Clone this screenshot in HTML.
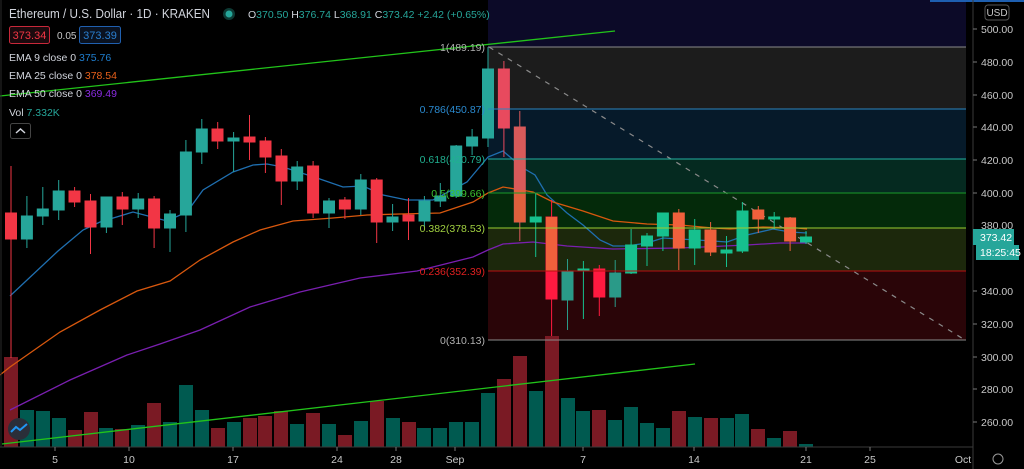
<!DOCTYPE html>
<html><head><meta charset="utf-8"><style>
html,body{margin:0;padding:0;background:#000;width:1024px;height:469px;overflow:hidden}
svg{display:block;font-family:"Liberation Sans",sans-serif}
</style></head><body>
<svg width="1024" height="469" viewBox="0 0 1024 469" xmlns="http://www.w3.org/2000/svg">
<rect width="1024" height="469" fill="#000"/>
<!-- fib zones -->
<rect x="488" y="0" width="478" height="47" fill="#0c0a28"/>
<rect x="488" y="47" width="478" height="62" fill="#1c1c1c"/>
<rect x="488" y="109" width="478" height="50" fill="#061a2a"/>
<rect x="488" y="159" width="478" height="34" fill="#052a20"/>
<rect x="488" y="193" width="478" height="35" fill="#042a0a"/>
<rect x="488" y="228" width="478" height="43" fill="#1c280c"/>
<rect x="488" y="271" width="478" height="69" fill="#2a0508"/>
<line x1="930" y1="1" x2="1024" y2="1" stroke="#1e5fb0" stroke-width="2"/>
<!-- volume -->
<g fill="#7a1a24">
<rect x="4" y="357" width="14" height="90"/>
<rect x="68" y="430" width="14" height="17"/><rect x="84" y="412" width="14" height="35"/>
<rect x="115" y="429" width="14" height="18"/><rect x="147" y="403" width="14" height="44"/>
<rect x="211" y="428" width="14" height="19"/><rect x="243" y="418" width="14" height="29"/>
<rect x="258" y="416" width="14" height="31"/><rect x="274" y="411" width="14" height="36"/>
<rect x="306" y="413" width="14" height="34"/><rect x="338" y="435" width="14" height="12"/>
<rect x="370" y="401" width="14" height="46"/><rect x="402" y="422" width="14" height="25"/>
<rect x="497" y="379" width="14" height="68"/><rect x="513" y="356" width="14" height="91"/>
<rect x="545" y="336" width="14" height="111"/><rect x="592" y="410" width="14" height="37"/>
<rect x="672" y="411" width="14" height="36"/><rect x="704" y="418" width="14" height="29"/>
<rect x="751" y="429" width="14" height="18"/><rect x="783" y="431" width="14" height="16"/>
</g>
<g fill="#005a50">
<rect x="20" y="410" width="14" height="37"/><rect x="36" y="411" width="14" height="36"/>
<rect x="52" y="418" width="14" height="29"/><rect x="99" y="428" width="14" height="19"/>
<rect x="131" y="425" width="14" height="22"/><rect x="163" y="422" width="14" height="25"/>
<rect x="179" y="385" width="14" height="62"/><rect x="195" y="410" width="14" height="37"/>
<rect x="227" y="422" width="14" height="25"/><rect x="290" y="424" width="14" height="23"/>
<rect x="322" y="424" width="14" height="23"/><rect x="354" y="421" width="14" height="26"/>
<rect x="386" y="418" width="14" height="29"/><rect x="417" y="428" width="14" height="19"/>
<rect x="433" y="428" width="14" height="19"/><rect x="449" y="422" width="14" height="25"/>
<rect x="465" y="422" width="14" height="25"/><rect x="481" y="393" width="14" height="54"/>
<rect x="529" y="391" width="14" height="56"/><rect x="561" y="398" width="14" height="49"/>
<rect x="576" y="411" width="14" height="36"/><rect x="608" y="420" width="14" height="27"/>
<rect x="624" y="407" width="14" height="40"/><rect x="640" y="423" width="14" height="24"/>
<rect x="656" y="428" width="14" height="19"/><rect x="688" y="417" width="14" height="30"/>
<rect x="720" y="418" width="14" height="29"/><rect x="735" y="414" width="14" height="33"/>
<rect x="767" y="438" width="14" height="9"/><rect x="799" y="444" width="14" height="3"/>
</g>
<!-- EMAs -->
<polyline fill="none" stroke="#1f6fb0" stroke-width="1.3" points="10,296 58,251 83,230 100,222 133,212 167,221 187,212 203,190 233,172 253,165 267,164 283,167 317,178 343,187 363,186 383,195 407,200 433,200 467,182 488,157 503,151 523,168 535,175 547,195 567,213 583,225 600,240 613,246 627,246 647,243 663,238 680,239 713,241 727,242 747,235 773,229 790,232 807,233"/>
<polyline fill="none" stroke="#d8580e" stroke-width="1.3" points="0,375 10,367 60,332 100,310 137,291 170,281 200,260 233,242 260,230 293,221 333,218 367,215 400,214 440,213 473,202 488,193 503,187 533,192 553,202 583,211 613,221 647,224 680,225 713,228 730,229 763,227 797,228 807,229"/>
<polyline fill="none" stroke="#7a1fb0" stroke-width="1.3" points="10,410 70,380 127,355 160,344 200,330 250,307 300,292 360,278 417,271 473,257 488,250 503,244 533,242 567,246 613,249 680,248 747,245 780,243 807,243"/>
<!-- trend lines -->
<line x1="0" y1="96" x2="615" y2="31" stroke="#22c41a" stroke-width="1.3"/>
<line x1="2" y1="444" x2="695" y2="364" stroke="#22c41a" stroke-width="1.3"/>
<line x1="489" y1="47" x2="965" y2="340" stroke="#8a8a8a" stroke-width="1.2" stroke-dasharray="5,6"/>
<!-- candles -->
<g stroke-width="1">
<g stroke="#f23645" fill="#f23645">
<line x1="11" y1="166" x2="11" y2="358"/><rect x="5.5" y="213" width="11" height="26"/>
<line x1="74.6" y1="187" x2="74.6" y2="207"/><rect x="69" y="191" width="11" height="11"/>
<line x1="90.5" y1="194" x2="90.5" y2="254"/><rect x="85" y="201" width="11" height="26"/>
<line x1="122.3" y1="192" x2="122.3" y2="225"/><rect x="117" y="197" width="11" height="12"/>
<line x1="154.1" y1="196" x2="154.1" y2="248"/><rect x="148.6" y="199" width="11" height="29"/>
<line x1="217.7" y1="122" x2="217.7" y2="149"/><rect x="212" y="129" width="11" height="12"/>
<line x1="249.5" y1="115" x2="249.5" y2="160"/><rect x="244" y="137" width="11" height="5"/>
<line x1="265.4" y1="137" x2="265.4" y2="173"/><rect x="260" y="141" width="11" height="16"/>
<line x1="281.3" y1="149" x2="281.3" y2="205"/><rect x="276" y="156" width="11" height="25"/>
<line x1="313.1" y1="161" x2="313.1" y2="218"/><rect x="307.6" y="166" width="11" height="47"/>
<line x1="344.9" y1="197" x2="344.9" y2="219"/><rect x="339.4" y="200" width="11" height="9"/>
<line x1="376.7" y1="178" x2="376.7" y2="243"/><rect x="371.2" y="180" width="11" height="42"/>
<line x1="408.5" y1="198" x2="408.5" y2="240"/><rect x="403" y="215" width="11" height="6"/>
</g>
<g stroke="#26a69a" fill="#26a69a">
<line x1="26.9" y1="196" x2="26.9" y2="248"/><rect x="21.4" y="216" width="11" height="23"/>
<line x1="42.8" y1="187" x2="42.8" y2="225"/><rect x="37.3" y="209" width="11" height="7"/>
<line x1="58.7" y1="180" x2="58.7" y2="220"/><rect x="53.2" y="191" width="11" height="19"/>
<line x1="106.4" y1="197" x2="106.4" y2="233"/><rect x="101" y="197" width="11" height="30"/>
<line x1="138.2" y1="193" x2="138.2" y2="218"/><rect x="132.7" y="199" width="11" height="10"/>
<line x1="170" y1="210" x2="170" y2="252"/><rect x="164.5" y="214" width="11" height="14"/>
<line x1="185.9" y1="140" x2="185.9" y2="232"/><rect x="180.4" y="152" width="11" height="63"/>
<line x1="201.8" y1="119" x2="201.8" y2="164"/><rect x="196.3" y="129" width="11" height="23"/>
<line x1="233.6" y1="132" x2="233.6" y2="172"/><rect x="228" y="138" width="11" height="3"/>
<line x1="297.2" y1="161" x2="297.2" y2="190"/><rect x="291.7" y="167" width="11" height="14"/>
<line x1="329" y1="198" x2="329" y2="228"/><rect x="323.5" y="201" width="11" height="12"/>
<line x1="360.8" y1="174" x2="360.8" y2="215"/><rect x="355.3" y="180" width="11" height="29"/>
<line x1="392.6" y1="204" x2="392.6" y2="231"/><rect x="387" y="217" width="11" height="5"/>
<line x1="424.4" y1="196" x2="424.4" y2="227"/><rect x="419" y="201" width="11" height="20"/>
<line x1="440.3" y1="183" x2="440.3" y2="207"/><rect x="434.8" y="196" width="11" height="5"/>
<line x1="456.2" y1="145" x2="456.2" y2="198"/><rect x="450.7" y="146" width="11" height="50"/>
<line x1="472.1" y1="129" x2="472.1" y2="155"/><rect x="466.6" y="137" width="11" height="9"/>
<line x1="488" y1="47" x2="488" y2="147"/><rect x="482.5" y="69" width="11" height="69"/>
</g>
<g stroke="#16c08e" fill="#16c08e">
<line x1="535.7" y1="193" x2="535.7" y2="257"/><rect x="530.2" y="217" width="11" height="5"/>
<line x1="583.4" y1="261" x2="583.4" y2="319"/><rect x="578" y="269" width="11" height="2"/>
<line x1="631.1" y1="229" x2="631.1" y2="274"/><rect x="625.6" y="245" width="11" height="28"/>
<line x1="647" y1="233" x2="647" y2="266"/><rect x="641.5" y="236" width="11" height="10"/>
<line x1="662.9" y1="213" x2="662.9" y2="251"/><rect x="657.4" y="213" width="11" height="23"/>
<line x1="694.7" y1="219" x2="694.7" y2="265"/><rect x="689.2" y="230" width="11" height="18"/>
<line x1="726.5" y1="236" x2="726.5" y2="267"/><rect x="721" y="250" width="11" height="3"/>
<line x1="742.4" y1="202" x2="742.4" y2="253"/><rect x="737" y="211" width="11" height="40"/>
<line x1="774.2" y1="212" x2="774.2" y2="229"/><rect x="768.7" y="217" width="11" height="2"/>
<line x1="806" y1="231" x2="806" y2="244"/><rect x="800.5" y="237" width="11" height="5"/>
</g>
<g stroke="#2a9a88" fill="#2a9a88">
<line x1="567.5" y1="259" x2="567.5" y2="330"/><rect x="562" y="271" width="11" height="29"/>
<line x1="615.2" y1="260" x2="615.2" y2="307"/><rect x="609.7" y="273" width="11" height="24"/>
</g>
<g stroke="#e84a5e" fill="#e84a5e">
<line x1="503.9" y1="61" x2="503.9" y2="157"/><rect x="498.4" y="69" width="11" height="59"/>
</g>
<g stroke="#d85a5a" fill="#d85a5a">
<line x1="519.8" y1="111" x2="519.8" y2="241"/><rect x="514.3" y="127" width="11" height="95"/>
</g>
<rect x="514.3" y="190" width="11" height="32" fill="#e0603c"/>
<g stroke="#ff1a40" fill="#ff1a40">
<line x1="551.6" y1="200" x2="551.6" y2="336"/><rect x="546" y="217" width="11" height="82"/>
<line x1="599.3" y1="265" x2="599.3" y2="316"/><rect x="593.8" y="269" width="11" height="28"/>
</g>
<rect x="546" y="217" width="11" height="54" fill="#f0603c"/>
<g stroke="#f0603c" fill="#f0603c">
<line x1="678.8" y1="209" x2="678.8" y2="270"/><rect x="673.3" y="213" width="11" height="35"/>
<line x1="710.6" y1="222" x2="710.6" y2="256"/><rect x="705" y="230" width="11" height="22"/>
<line x1="758.3" y1="206" x2="758.3" y2="233"/><rect x="752.8" y="210" width="11" height="9"/>
<line x1="790.1" y1="217" x2="790.1" y2="251"/><rect x="784.6" y="218" width="11" height="23"/>
</g>
</g>
<!-- fib lines -->
<line x1="488" y1="47" x2="966" y2="47" stroke="#8a8a8a"/>
<line x1="488" y1="109" x2="966" y2="109" stroke="#2a85c0"/>
<line x1="488" y1="159" x2="966" y2="159" stroke="#22b0a0"/>
<line x1="488" y1="193" x2="966" y2="193" stroke="#1a9a2a"/>
<line x1="488" y1="228" x2="966" y2="228" stroke="#9acd32"/>
<line x1="488" y1="271" x2="966" y2="271" stroke="#b81010"/>
<line x1="488" y1="340" x2="966" y2="340" stroke="#8a8a8a"/>
<g font-size="10.5" text-anchor="end">
<text x="485" y="51" fill="#b0b0b0">1(489.19)</text>
<text x="485" y="113" fill="#2a8ad0">0.786(450.87)</text>
<text x="485" y="163" fill="#20b090">0.618(420.79)</text>
<text x="485" y="197" fill="#3cc030">0.5(399.66)</text>
<text x="485" y="232" fill="#a0d040">0.382(378.53)</text>
<text x="485" y="275" fill="#e02020">0.236(352.39)</text>
<text x="485" y="344" fill="#b0b0b0">0(310.13)</text>
</g>
<!-- axes -->
<line x1="973" y1="0" x2="973" y2="469" stroke="#3a3a3a"/>
<line x1="0" y1="447" x2="973" y2="447" stroke="#3a3a3a"/>
<line x1="1" y1="0" x2="1" y2="447" stroke="#2a2a2a"/>
<g font-size="10.5" fill="#c8c8c8">
<text x="981" y="33">500.00</text><text x="981" y="66">480.00</text><text x="981" y="99">460.00</text>
<text x="981" y="131">440.00</text><text x="981" y="164">420.00</text><text x="981" y="197">400.00</text>
<text x="981" y="229">380.00</text><text x="981" y="295">340.00</text><text x="981" y="328">320.00</text>
<text x="981" y="361">300.00</text><text x="981" y="393">280.00</text><text x="981" y="426">260.00</text>
</g>
<g stroke="#777"><line x1="973" y1="29" x2="977" y2="29"/><line x1="973" y1="62" x2="977" y2="62"/><line x1="973" y1="95" x2="977" y2="95"/><line x1="973" y1="127" x2="977" y2="127"/><line x1="973" y1="160" x2="977" y2="160"/><line x1="973" y1="193" x2="977" y2="193"/><line x1="973" y1="291" x2="977" y2="291"/><line x1="973" y1="324" x2="977" y2="324"/><line x1="973" y1="357" x2="977" y2="357"/><line x1="973" y1="389" x2="977" y2="389"/><line x1="973" y1="422" x2="977" y2="422"/></g>
<rect x="985" y="5" width="24" height="15" rx="3" fill="none" stroke="#555"/>
<text x="997" y="16" font-size="10" fill="#c8c8c8" text-anchor="middle">USD</text>
<rect x="973" y="229" width="41" height="16" fill="#26a69a"/>
<text x="980" y="241" font-size="10.5" fill="#fff">373.42</text>
<rect x="976" y="245" width="43" height="15" fill="#26a69a"/>
<text x="980" y="256" font-size="10.5" fill="#fff">18:25:45</text>
<g font-size="10.5" fill="#c8c8c8" text-anchor="middle">
<text x="55" y="463">5</text><text x="129" y="463">10</text><text x="233" y="463">17</text>
<text x="337" y="463">24</text><text x="396" y="463">28</text><text x="455" y="463">Sep</text>
<text x="583" y="463">7</text><text x="694" y="463">14</text><text x="806" y="463">21</text>
<text x="870" y="463">25</text><text x="963" y="463">Oct</text>
</g>
<g stroke="#777"><line x1="55" y1="447" x2="55" y2="451"/><line x1="129" y1="447" x2="129" y2="451"/><line x1="233" y1="447" x2="233" y2="451"/><line x1="337" y1="447" x2="337" y2="451"/><line x1="396" y1="447" x2="396" y2="451"/><line x1="455" y1="447" x2="455" y2="451"/><line x1="583" y1="447" x2="583" y2="451"/><line x1="694" y1="447" x2="694" y2="451"/><line x1="806" y1="447" x2="806" y2="451"/><line x1="870" y1="447" x2="870" y2="451"/></g>
<circle cx="998" cy="459" r="5" fill="none" stroke="#999"/>
<!-- tv logo -->
<circle cx="19" cy="429" r="11" fill="#2a2e39"/>
<path d="M11 432 l5-5 l4 3 l7-6" stroke="#2196f3" stroke-width="2" fill="none"/>
<!-- header -->
<text x="9" y="18" font-size="12.5" fill="#d1d4dc" textLength="201" lengthAdjust="spacingAndGlyphs">Ethereum / U.S. Dollar · 1D · KRAKEN</text>
<circle cx="229" cy="14" r="6" fill="#0d3a34"/><circle cx="229" cy="14" r="3.5" fill="#26a69a"/>
<text x="248" y="18" font-size="10.5" fill="#d1d4dc">O<tspan fill="#26a69a">370.50</tspan> H<tspan fill="#26a69a">376.74</tspan> L<tspan fill="#26a69a">368.91</tspan> C<tspan fill="#26a69a">373.42 +2.42 (+0.65%)</tspan></text>
<rect x="9.5" y="26.5" width="40" height="17" rx="2" fill="#1a0a0e" stroke="#c8283a"/>
<text x="29.5" y="39" font-size="11" fill="#f23645" text-anchor="middle">373.34</text>
<text x="57" y="39" font-size="10" fill="#c8c8c8">0.05</text>
<rect x="79.5" y="26.5" width="41" height="17" rx="2" fill="#0a1220" stroke="#2060b0"/>
<text x="100" y="39" font-size="11" fill="#2a7fd0" text-anchor="middle">373.39</text>
<g font-size="10.5" fill="#d1d4dc">
<text x="9" y="61">EMA 9 close 0 <tspan fill="#1f7fd0">375.76</tspan></text>
<text x="9" y="79">EMA 25 close 0 <tspan fill="#e8601a">378.54</tspan></text>
<text x="9" y="97">EMA 50 close 0 <tspan fill="#8a2be2">369.49</tspan></text>
<text x="9" y="116">Vol <tspan fill="#26a69a">7.332K</tspan></text>
</g>
<rect x="10.5" y="123.5" width="20" height="15" rx="2" fill="#000" stroke="#444"/>
<path d="M16 133 l4.5-4 l4.5 4" stroke="#d1d4dc" stroke-width="1.5" fill="none"/>
</svg>
</body></html>
